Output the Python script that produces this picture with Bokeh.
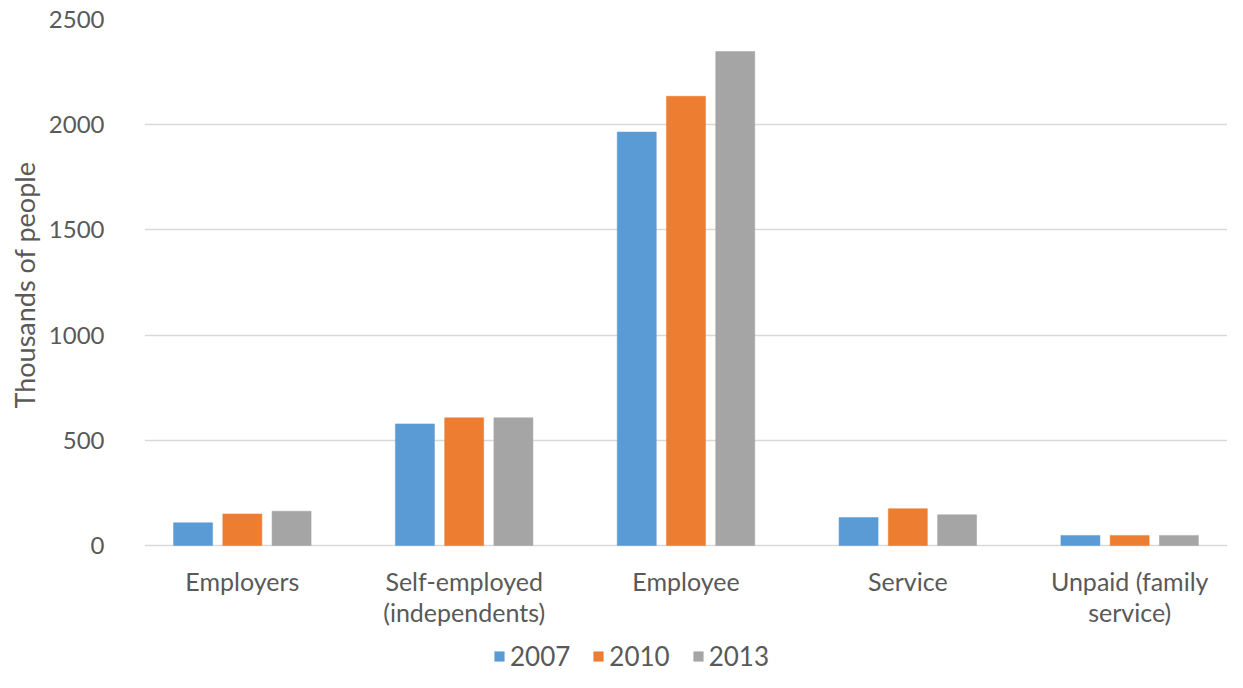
from bokeh.plotting import figure
from bokeh.models import Legend, LegendItem, FactorRange, Range1d, FixedTicker, ColumnDataSource, Title
from bokeh.core.properties import value
from bokeh.transform import dodge
from bokeh.embed import file_html
from bokeh.resources import INLINE

categories = ["Employers", "Self-employed\n(independents)", "Employee", "Service", "Unpaid (family\nservice)"]
years = ["2007", "2010", "2013"]
v2007 = [108, 578, 1965, 133, 48]
v2010 = [150, 607, 2135, 175, 48]
v2013 = [163, 607, 2348, 146, 48]
y_ticks = [0, 500, 1000, 1500, 2000, 2500]
colors = ["#5B9BD5", "#ED7D31", "#A5A5A5"]

FONT = "Lato"
TXT = "#595959"

W, H = 1227, 672
TOP, ZERO_PX, LEFT = 19, 545, 143
y_max = 2500
y_min = -y_max * (H - ZERO_PX) / (ZERO_PX - TOP)   # room below zero for category labels + legend

src = ColumnDataSource(dict(cat=categories, y2007=v2007, y2010=v2010, y2013=v2013))

p = figure(x_range=FactorRange(*categories, range_padding=-0.0236), y_range=Range1d(y_min, y_max),
           width=W, height=H, output_backend="svg", toolbar_location=None,
           min_border_left=LEFT, min_border_top=TOP, min_border_right=0, min_border_bottom=0)

offsets = [-0.222, 0.0, 0.222]
cols = ["y2007", "y2010", "y2013"]
renderers = []
for off, col, c in zip(offsets, cols, colors):
    r = p.vbar(x=dodge("cat", off, range=p.x_range), top=col, width=0.176, source=src,
               fill_color=c, line_color=c, line_width=0.5)
    renderers.append(r)

# category labels under the zero line
p.text(x="cat", y=0, text="cat", source=src, y_offset=20, text_align="center", text_baseline="top",
       text_font=value(FONT), text_font_size="25px", text_color=TXT, text_line_height=1.04)

p.outline_line_color = None
p.xgrid.grid_line_color = None
p.ygrid.grid_line_color = "#D9D9D9"
p.ygrid.grid_line_width = 1.5
p.ygrid.ticker = FixedTicker(ticks=y_ticks)
p.xaxis.visible = False

p.yaxis.ticker = FixedTicker(ticks=y_ticks)
p.yaxis.axis_line_color = None
p.yaxis.major_tick_line_color = None
p.yaxis.minor_tick_line_color = None
p.yaxis.major_tick_out = 0
p.yaxis.major_label_standoff = 40
p.yaxis.major_label_text_font = FONT
p.yaxis.major_label_text_font_size = "24px"
p.yaxis.major_label_text_color = TXT

ytitle = Title(text="Thousands of people", align="left", offset=H - 408, standoff=10,
               text_font=FONT, text_font_size="27px", text_font_style="normal", text_color=TXT)
p.add_layout(ytitle, "left")

legend = Legend(items=[LegendItem(label=y, renderers=[r]) for y, r in zip(years, renderers)],
                orientation="horizontal", location=(349, 0), padding=0, margin=0,
                spacing=22, label_standoff=5, glyph_width=12, glyph_height=12,
                label_text_font=FONT, label_text_font_size="26px", label_text_color=TXT,
                border_line_color=None, background_fill_alpha=0)
p.add_layout(legend, "center")

open("out.html", "w").write(file_html(p, INLINE))
